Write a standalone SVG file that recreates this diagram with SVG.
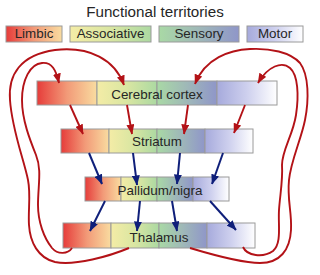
<svg xmlns="http://www.w3.org/2000/svg" width="320" height="275" viewBox="0 0 320 275">
<style>
text{font-family:"Liberation Sans",Arial,sans-serif;fill:#262626}
.lbl{font-size:13.4px;text-anchor:middle}
.ttl{font-size:15.2px;text-anchor:middle}
.seg{stroke:#9a9a9a;stroke-width:1}
.red{fill:none;stroke:#b31217;stroke-width:1.9}
.blu{fill:none;stroke:#0f1f7a;stroke-width:2}
</style>
<defs>
<linearGradient id="gL" x1="0" y1="0" x2="1" y2="0"><stop offset="0" stop-color="#e63c3a"/><stop offset="0.5" stop-color="#f29a78"/><stop offset="1" stop-color="#f9dca0"/></linearGradient>
<linearGradient id="gA" x1="0" y1="0" x2="1" y2="0"><stop offset="0" stop-color="#f4eca6"/><stop offset="0.5" stop-color="#d9e6a2"/><stop offset="1" stop-color="#acd9a2"/></linearGradient>
<linearGradient id="gS" x1="0" y1="0" x2="1" y2="0"><stop offset="0" stop-color="#a9d9a5"/><stop offset="0.5" stop-color="#9fb8b8"/><stop offset="1" stop-color="#8f96c9"/></linearGradient>
<linearGradient id="gM" x1="0" y1="0" x2="1" y2="0"><stop offset="0" stop-color="#a6aadc"/><stop offset="0.5" stop-color="#ced0ee"/><stop offset="1" stop-color="#ffffff"/></linearGradient>
<marker id="ar" viewBox="0 0 10 8" refX="9.5" refY="4" markerWidth="10" markerHeight="8" markerUnits="userSpaceOnUse" orient="auto"><path d="M0,0 L10,4 L0,8 z" fill="#b31217"/></marker>
<marker id="ab" viewBox="0 0 10 8" refX="9.5" refY="4" markerWidth="10" markerHeight="8" markerUnits="userSpaceOnUse" orient="auto"><path d="M0,0 L10,4 L0,8 z" fill="#0f1f7a"/></marker>
</defs>
<rect width="320" height="275" fill="#ffffff"/>
<text class="ttl" x="155" y="17">Functional territories</text>
<g id="legend">
<g id="legend-limbic"><rect class="seg" x="6" y="26" width="56" height="16" fill="url(#gL)"/><text class="lbl" x="34" y="38">Limbic</text></g>
<g id="legend-associative"><rect class="seg" x="70" y="26" width="81" height="16" fill="url(#gA)"/><text class="lbl" x="110.5" y="38">Associative</text></g>
<g id="legend-sensory"><rect class="seg" x="159" y="26" width="80" height="16" fill="url(#gS)"/><text class="lbl" x="199" y="38">Sensory</text></g>
<g id="legend-motor"><rect class="seg" x="247" y="26" width="56" height="16" fill="url(#gM)"/><text class="lbl" x="275" y="38">Motor</text></g>
</g>
<g id="cortex">
<rect class="seg" x="37" y="81" width="60" height="24" fill="url(#gL)"/>
<rect class="seg" x="97" y="81" width="60" height="24" fill="url(#gA)"/>
<rect class="seg" x="157" y="81" width="60" height="24" fill="url(#gS)"/>
<rect class="seg" x="217" y="81" width="60" height="24" fill="url(#gM)"/>
<text class="lbl" x="157" y="99">Cerebral cortex</text>
</g>
<g id="striatum">
<rect class="seg" x="61" y="129" width="48" height="24" fill="url(#gL)"/>
<rect class="seg" x="109" y="129" width="48" height="24" fill="url(#gA)"/>
<rect class="seg" x="157" y="129" width="48" height="24" fill="url(#gS)"/>
<rect class="seg" x="205" y="129" width="48" height="24" fill="url(#gM)"/>
<text class="lbl" x="157" y="146">Striatum</text>
</g>
<g id="pallidum">
<rect class="seg" x="85" y="177" width="36" height="24" fill="url(#gL)"/>
<rect class="seg" x="121" y="177" width="36" height="24" fill="url(#gA)"/>
<rect class="seg" x="157" y="177" width="36" height="24" fill="url(#gS)"/>
<rect class="seg" x="193" y="177" width="36" height="24" fill="url(#gM)"/>
<text class="lbl" x="160" y="195">Pallidum/nigra</text>
</g>
<g id="thalamus">
<rect class="seg" x="63" y="223" width="48" height="25" fill="url(#gL)"/>
<rect class="seg" x="111" y="223" width="48" height="25" fill="url(#gA)"/>
<rect class="seg" x="159" y="223" width="48" height="25" fill="url(#gS)"/>
<rect class="seg" x="207" y="223" width="48" height="25" fill="url(#gM)"/>
<text class="lbl" x="159" y="242">Thalamus</text>
</g>
<g id="connectors">
<path class="red" marker-end="url(#ar)" d="M70,105 L83,134"/>
<path class="red" marker-end="url(#ar)" d="M127,105 L132,134"/>
<path class="red" marker-end="url(#ar)" d="M188,105 L184,134"/>
<path class="red" marker-end="url(#ar)" d="M245,105 L234,133"/>
<path class="blu" marker-end="url(#ab)" d="M89,153 L102,184"/>
<path class="blu" marker-end="url(#ab)" d="M133,153 L137,185"/>
<path class="blu" marker-end="url(#ab)" d="M180,153 L177,184"/>
<path class="blu" marker-end="url(#ab)" d="M223,153 L212,184"/>
<path class="blu" marker-end="url(#ab)" d="M105,201 L90,231"/>
<path class="blu" marker-end="url(#ab)" d="M140,201 L137,231"/>
<path class="blu" marker-end="url(#ab)" d="M172,201 L177,231"/>
<path class="blu" marker-end="url(#ab)" d="M210,201 L236,230"/>
<path class="red" marker-end="url(#ar)" d="M129,248 C110,256 75,266 55,262 C38,258 30,242 29,225 C28,210 31,195 28,180 C24,160 12,130 10,100 C8,75 20,55 55,50 C90,46 115,60 124,85"/>
<path class="red" marker-end="url(#ar)" d="M72,248 C68,254 58,255 52,248 C44,238 38,222 38,205 C38,185 42,170 36,155 C30,140 22,120 22,100 C22,80 30,64 42,63 C52,62 56,70 59,83"/>
<path class="red" marker-end="url(#ar)" d="M243,247 C247,256 263,258 273,251 C282,243 278,225 279,210 C280,195 283,180 282,165 C282,150 293,135 296,115 C299,95 298,75 290,68 C282,61 268,66 258,83"/>
<path class="red" marker-end="url(#ar)" d="M190,248 C210,254 240,263 260,263 C280,263 290,250 291,230 C292,212 287,200 289,180 C291,160 301,140 305,120 C309,100 309,75 300,63 C290,52 270,48 250,49 C230,50 205,58 195,84"/>
</g>
</svg>
